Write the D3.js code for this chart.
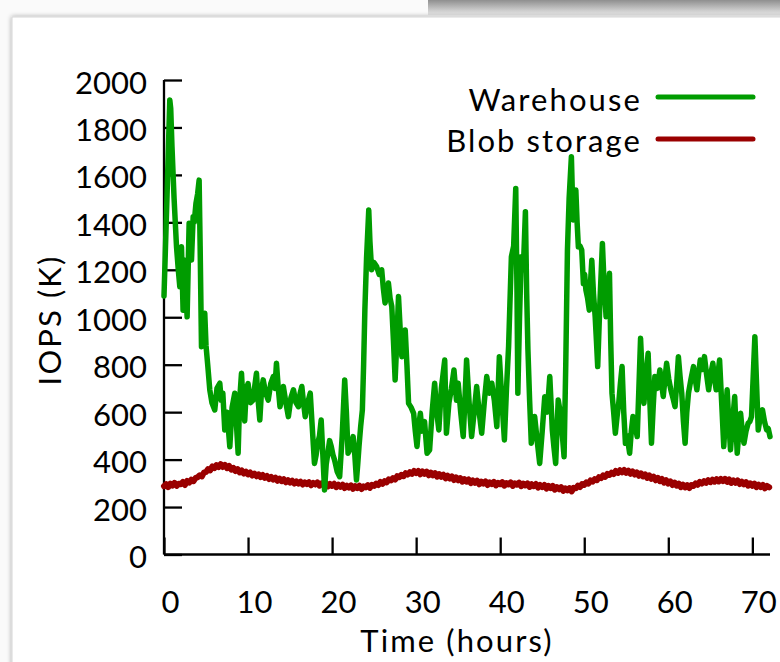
<!DOCTYPE html>
<html><head><meta charset="utf-8">
<script src="https://cdn.jsdelivr.net/npm/d3@7"></script>
<style>
html,body{margin:0;padding:0;background:#fff;}
svg{display:block;}
text{font-family:Lato,"Open Sans",sans-serif;fill:#000;}
</style></head>
<body>
<svg id="chart" width="780" height="662"></svg>
<script>
// ---- data ----
const xTicks = [0,10,20,30,40,50,60,70];
const yTicks = [0,200,400,600,800,1000,1200,1400,1600,1800,2000];
const seriesNames = ["Warehouse","Blob storage"];
const seriesColors = ["#009c00","#9a0000"];
// [hour, IOPS (K)]
const warehouse = [
[0,1090],[0.35,1500],[0.69,1916],[0.8,1880],[0.95,1719],[1.2,1500],[1.49,1297],[1.7,1200],[1.88,1129],[2.08,1297],
[2.27,1030],[2.47,1240],[2.75,1002],[2.99,1396],[3.1,1300],[3.27,1241],[3.47,1424],[3.6,1400],[3.8,1480],[4.0,1520],
[4.18,1578],[4.3,1300],[4.46,876],[4.6,960],[4.85,1017],[5.0,880],[5.2,800],[5.45,693],[5.7,640],[6.04,609],
[6.3,700],[6.64,722],[6.8,650],[7.0,680],[7.23,525],[7.5,600],[7.83,454],[8.1,620],[8.42,680],[8.6,560],
[8.82,427],[9.0,650],[9.22,764],[9.4,640],[9.6,563],[9.8,700],[10.0,720],[10.3,640],[10.6,651],[10.8,710],
[11.0,764],[11.2,650],[11.4,567],[11.6,690],[11.8,736],[12.1,680],[12.4,651],[12.7,720],[13.0,750],[13.2,700],
[13.38,806],[13.6,700],[13.8,623],[14.0,660],[14.2,708],[14.5,640],[14.8,581],[15.1,660],[15.4,694],[15.7,640],
[16.0,623],[16.2,680],[16.4,708],[16.6,640],[16.8,581],[17.1,640],[17.4,680],[17.6,560],[17.9,384],[18.1,420],
[18.3,470],[18.5,500],[18.7,567],[18.9,420],[19.1,272],[19.3,380],[19.5,427],[19.7,480],[19.9,455],[20.1,420],
[20.3,398],[20.6,350],[20.9,328],[21.2,500],[21.5,736],[21.7,600],[21.9,427],[22.2,450],[22.5,497],[22.7,420],
[22.9,314],[23.05,380],[23.2,455],[23.4,540],[23.6,609],[23.75,800],[23.9,1032],[24.1,1250],[24.36,1452],[24.5,1320],
[24.7,1200],[25.0,1230],[25.3,1214],[25.6,1180],[25.9,1200],[26.1,1120],[26.3,1060],[26.5,1100],[26.7,1144],[26.9,1080],
[27.1,1046],[27.3,900],[27.5,736],[27.7,900],[27.9,1087],[28.1,950],[28.3,834],[28.5,880],[28.7,946],[28.9,800],
[29.1,637],[29.4,620],[29.7,595],[29.9,520],[30.1,455],[30.3,540],[30.5,595],[30.7,520],[31.0,560],[31.3,427],
[31.6,440],[31.9,600],[32.2,722],[32.45,600],[32.7,525],[33.0,700],[33.4,820],[33.6,511],[33.9,640],[34.2,700],
[34.5,778],[34.8,650],[35.0,722],[35.3,600],[35.6,497],[35.8,650],[36.0,820],[36.3,640],[36.6,497],[36.9,600],
[37.2,708],[37.5,600],[37.8,511],[38.1,640],[38.4,750],[38.7,680],[39.0,722],[39.3,650],[39.6,539],[39.9,834],
[40.2,650],[40.5,483],[40.75,700],[41.0,877],[41.15,1050],[41.33,1255],[41.6,1300],[41.85,1543],[42.0,1100],[42.1,680],
[42.3,1000],[42.5,1255],[42.75,1200],[43.0,1445],[43.15,1100],[43.3,863],[43.5,650],[43.7,469],[43.9,520],[44.1,582],
[44.4,480],[44.7,384],[45.0,520],[45.3,665],[45.6,600],[45.9,750],[46.05,640],[46.2,525],[46.4,450],[46.6,384],
[46.75,520],[46.9,651],[47.05,620],[47.2,595],[47.4,500],[47.6,412],[47.8,800],[48.0,1283],[48.2,1500],[48.47,1677],
[48.6,1500],[48.7,1410],[48.85,1480],[49.0,1536],[49.15,1400],[49.3,1297],[49.5,1300],[49.7,1283],[49.9,1142],[50.05,1180],
[50.2,1114],[50.4,1080],[50.6,1030],[50.75,1150],[50.9,1240],[51.1,1100],[51.3,1002],[51.45,900],[51.6,792],[51.85,1050],
[52.16,1311],[52.35,1150],[52.6,1002],[52.8,1100],[53.0,1185],[53.15,900],[53.3,680],[53.5,600],[53.7,511],[53.9,580],
[54.1,637],[54.3,720],[54.5,792],[54.7,600],[54.9,469],[55.1,500],[55.4,427],[55.6,520],[55.8,582],[56.0,550],
[56.3,497],[56.5,700],[56.7,911],[56.9,750],[57.1,637],[57.35,750],[57.6,848],[57.8,650],[58.0,469],[58.2,620],
[58.4,750],[58.7,700],[59.0,778],[59.2,720],[59.4,666],[59.6,740],[59.8,806],[60.05,740],[60.3,694],[60.55,660],
[60.8,623],[61.0,720],[61.2,834],[61.4,750],[61.6,680],[61.8,560],[62.0,469],[62.2,600],[62.4,680],[62.7,740],
[63.0,792],[63.2,740],[63.4,694],[63.6,760],[63.8,820],[64.05,780],[64.3,834],[64.55,760],[64.8,694],[65.05,760],
[65.3,806],[65.5,740],[65.7,694],[65.9,760],[66.1,820],[66.35,640],[66.6,455],[66.8,580],[67.0,694],[67.2,560],
[67.4,441],[67.65,560],[67.9,666],[68.05,540],[68.2,427],[68.4,520],[68.6,595],[68.8,520],[69.0,469],[69.25,520],
[69.5,553],[69.7,560],[69.9,581],[70.1,750],[70.3,918],[70.5,720],[70.7,525],[70.95,580],[71.2,610],[71.45,560],
[71.7,525],[71.9,530],[72.1,497]
];
// Blob storage, one reading every 15 minutes from hour 0 (four readings per row = one hour)
const blobSampleHours = 0.25;
const blobIOPS = [
288,296,284,299, 291,302,289,298, 296,306,293,310, 303,315,309,322,
326,334,329,345, 348,360,355,371, 364,377,368,381, 369,378,364,373,
358,365,352,360, 346,354,341,349, 338,346,333,341, 330,338,326,335,
323,331,318,327, 316,324,311,320, 309,317,304,313, 303,311,299,308,
299,307,295,304, 297,305,292,302, 295,304,290,300, 293,301,287,297,
289,298,284,294, 285,294,280,290, 282,291,277,288, 280,290,276,287,
283,292,281,294, 289,299,293,306, 298,309,304,317, 312,322,316,330,
326,336,330,343, 337,347,340,352, 343,352,338,350, 340,349,334,345,
334,343,328,339, 327,336,321,332, 320,329,314,325, 313,322,307,318,
307,316,301,312, 302,311,296,307, 299,308,293,304, 297,306,291,302,
296,305,290,301, 295,304,289,300, 294,303,288,299, 291,300,285,296,
288,297,282,293, 284,293,278,289, 280,289,273,284, 275,284,268,279,
270,280,266,281, 279,290,284,297, 293,304,299,312, 307,318,313,326,
322,333,327,340, 335,345,339,352, 344,355,346,356, 344,353,340,350,
337,346,332,342, 329,338,323,333, 319,328,313,323, 309,318,303,313,
299,308,293,303, 290,299,284,294, 283,292,280,293, 289,300,294,306,
299,309,302,313, 305,315,307,318, 308,318,309,319, 306,316,302,312,
302,312,297,307, 296,305,290,300, 290,299,284,294, 284,293,279,289,
283
];
const blob = blobIOPS.map((v,i)=>[i*blobSampleHours, v]);

// ---- drawing ----
const svg = d3.select("#chart");
const defs = svg.append("defs");
const grad = defs.append("linearGradient").attr("id","topShade").attr("x1",0).attr("y1",0).attr("x2",0).attr("y2",1);
grad.append("stop").attr("offset","0%").attr("stop-color","#8f8f8f");
grad.append("stop").attr("offset","100%").attr("stop-color","#e8e8e8");
const shadow = defs.append("filter").attr("id","cardShadow").attr("x","-5%").attr("y","-5%").attr("width","110%").attr("height","110%");
shadow.append("feGaussianBlur").attr("in","SourceAlpha").attr("stdDeviation",2.5).attr("result","b");
shadow.append("feComponentTransfer").attr("in","b").attr("result","s").append("feFuncA").attr("type","linear").attr("slope",0.35);
const fm = shadow.append("feMerge");
fm.append("feMergeNode").attr("in","s");
fm.append("feMergeNode").attr("in","SourceGraphic");

svg.append("rect").attr("x",0).attr("y",0).attr("width",780).attr("height",662).attr("fill","#fafafa");
svg.append("rect").attr("x",428).attr("y",0).attr("width",360).attr("height",15).attr("fill","url(#topShade)");
svg.append("rect").attr("x",12).attr("y",17).attr("width",800).attr("height",700)
  .attr("fill","#fff").attr("stroke","#d6d6d6").attr("stroke-width",1).attr("filter","url(#cardShadow)");

const x = d3.scaleLinear().domain([0,72.1]).range([164,770]);
const y = d3.scaleLinear().domain([0,2000]).range([554.5,80]);

const FS = 31;
const LS = 2.1; // letter spacing for word labels
// axes
const xAxis = svg.append("g").attr("transform",`translate(0,${y(0)})`)
  .call(d3.axisBottom(x).tickValues(xTicks).tickSize(-17).tickPadding(0).tickFormat(d3.format("d")));
const yAxis = svg.append("g").attr("transform",`translate(${x(0)},0)`)
  .call(d3.axisLeft(y).tickValues(yTicks).tickSize(-18).tickPadding(0).tickFormat(d3.format("d")));
[xAxis,yAxis].forEach(g=>{
  g.select(".domain").attr("stroke","#000").attr("stroke-width",2.3);
  g.selectAll(".tick line").attr("stroke","#000").attr("stroke-width",2.3);
  g.selectAll("text").attr("font-size",FS).attr("font-family","Lato, sans-serif").attr("fill","#000");
});
xAxis.select(".domain").attr("d",`M${x(0)},0H770`);
yAxis.select(".domain").attr("d",`M0,${y(2000)}V${y(0)}`);
xAxis.selectAll(".tick text").attr("y",58).attr("dy",0).attr("dx",6);
yAxis.selectAll(".tick text").attr("x",-17).attr("dy","0.42em");

// lines
const line = d3.line().x(d=>x(d[0])).y(d=>y(d[1]));
svg.append("path").datum(blob).attr("d",line).attr("fill","none")
  .attr("stroke",seriesColors[1]).attr("stroke-width",6).attr("stroke-linejoin","round").attr("stroke-linecap","round");
svg.append("path").datum(warehouse).attr("d",line).attr("fill","none")
  .attr("stroke",seriesColors[0]).attr("stroke-width",5.5).attr("stroke-linejoin","round").attr("stroke-linecap","round");

// axis titles
svg.append("text").attr("x",457).attr("y",652).attr("text-anchor","middle").attr("font-size",FS)
  .attr("letter-spacing",LS).text("Time (hours)");
svg.append("text").attr("transform","translate(61,320) rotate(-90)").attr("text-anchor","middle").attr("font-size",FS)
  .attr("letter-spacing",LS).text("IOPS (K)");

// legend
const legY = [97,139], legBase = [111,152];
seriesNames.forEach((n,i)=>{
  svg.append("text").attr("x",642).attr("y",legBase[i]).attr("text-anchor","end").attr("font-size",FS)
    .attr("letter-spacing",LS).text(n);
  svg.append("line").attr("x1",658).attr("x2",753).attr("y1",legY[i]).attr("y2",legY[i])
    .attr("stroke",seriesColors[i]).attr("stroke-width",5).attr("stroke-linecap","round");
});
</script>
</body></html>
